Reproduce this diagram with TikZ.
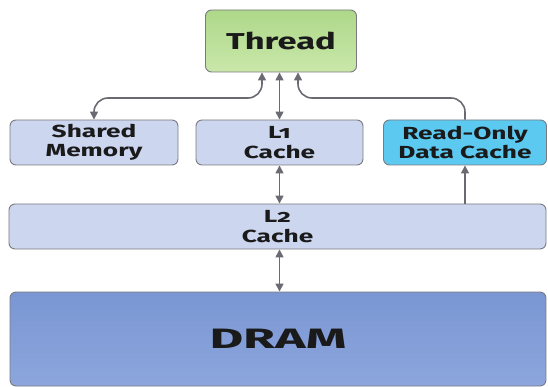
\documentclass[tikz,border=0pt]{standalone}
\usepackage{fontspec}
\setmainfont{Fira Sans}[Numbers=OldStyle]
\newfontfamily\wideA{Fira Sans}[FakeStretch=1.5, Numbers=OldStyle]
\newfontfamily\wideB{Fira Sans}[FakeStretch=1.85, Numbers=OldStyle]
\usetikzlibrary{arrows.meta}
\definecolor{edgegray}{HTML}{7A7A80}
\definecolor{arrgray}{HTML}{6A6A72}
\definecolor{lightbox}{HTML}{CCD6EF}
\definecolor{rofill}{HTML}{5CC9F1}
\definecolor{thrtop}{HTML}{AED889}
\definecolor{thrbot}{HTML}{C9E7AA}
\definecolor{dramtop}{HTML}{7A96D3}
\definecolor{drambot}{HTML}{8CA6DD}
\definecolor{txt}{HTML}{1A1A1A}
\tikzset{
  boxbase/.style={draw=edgegray, line width=0.9pt, rounded corners=6pt, inner sep=0pt,
    text=txt, align=center},
  rowfont/.style={font=\wideA\bfseries\fontsize{17.5}{19.5}\selectfont},
  lightnode/.style={boxbase, fill=lightbox, rowfont},
  conn/.style={draw=arrgray, line width=1.6pt, arrows={-Triangle[length=8pt,width=8pt]}},
  dconn/.style={draw=arrgray, line width=1.6pt,
    arrows={Triangle[length=8pt,width=8pt]-Triangle[length=8pt,width=8pt]}}
}
\begin{document}
\begin{tikzpicture}[x=1pt,y=-1pt]
\useasboundingbox (0,0) rectangle (548,387);
\node[boxbase, top color=thrtop, bottom color=thrbot, minimum width=151pt, minimum height=62pt,
  font=\wideA\bfseries\fontsize{23}{26}\selectfont] (thr) at (281,41) {Thread};
\node[lightnode, minimum width=168pt, minimum height=45pt] (shm) at (94,142.5) {Shared\\Memory};
\node[lightnode, minimum width=167pt, minimum height=45pt] (lone) at (279.5,142.5) {L1\\Cache};
\node[boxbase, fill=rofill, rowfont, minimum width=163pt, minimum height=45pt]
  (ro) at (465,142.5) {Read-Only\\Data Cache};
\node[lightnode, minimum width=537pt, minimum height=45pt] (ltwo) at (277.5,226.5) {L2\\Cache};
\node[boxbase, top color=dramtop, bottom color=drambot, minimum width=536pt, minimum height=94pt,
  font=\wideB\bfseries\fontsize{28}{30}\selectfont] (dram) at (278,339) {DRAM};
\coordinate (hy) at (0,98);
% connectors
\draw[dconn] (lone.north) -- (lone.north |- thr.south);
\draw[dconn, rounded corners=14pt] ([xshift=-19pt]thr.south) |- (shm.north |- hy) -- (shm.north);
\draw[conn, rounded corners=14pt] (ro.north) -- (ro.north |- hy) -| ([xshift=17pt]thr.south);
\draw[conn] (ltwo.north -| ro) -- (ro.south);
\draw[dconn] (lone.south) -- (lone.south |- ltwo.north);
\draw[dconn] (lone.south |- ltwo.south) -- (lone.south |- dram.north);
\end{tikzpicture}
\end{document}
